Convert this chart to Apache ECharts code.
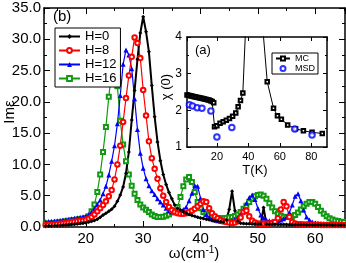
<!DOCTYPE html>
<html><head><meta charset="utf-8">
<script src="https://cdn.jsdelivr.net/npm/echarts@6/dist/echarts.min.js"></script>
<style>html,body{margin:0;padding:0;background:#fff}#c{width:346px;height:263px}</style>
</head><body><div id="c"></div>
<script>
// ---- main panel (b): Im(epsilon) vs omega (cm^-1) ----
const omega = [12.5,13,13.5,14,14.5,15,15.5,16,16.5,17,
  17.5,18,18.5,19,19.5,20,20.5,21,21.5,22,
  22.5,23,23.5,24,24.5,25,25.5,26,26.5,27,
  27.5,28,28.5,29,29.5,30,30.5,31,31.5,32,
  32.5,33,33.5,34,34.5,35,35.5,36,36.5,37,
  37.5,38,38.5,39,39.5,40,40.5,41,41.5,42,
  42.5,43,43.5,44,44.5,45,45.5,46,46.5,47,
  47.5,48,48.5,49,49.5,50,50.5,51,51.5,52,
  52.5,53,53.5,54,54.5,55,55.5,56,56.5,57,
  57.5,58,58.5,59,59.5,60,60.5,61,61.5,62,
  62.5,63,63.5,64,64.5,65];
const imH0 = [0.12,0.14,0.15,0.17,0.19,0.21,0.23,0.26,0.30,0.34,
  0.38,0.43,0.48,0.54,0.60,0.68,0.78,0.90,1.05,1.25,
  1.55,1.9,2.2,2.5,2.85,3.3,4.1,5.1,6.4,8.6,
  12.0,17.1,21.8,26.8,31.0,33.6,31.2,28.0,22.6,17.6,
  13.6,10.6,8.4,6.8,5.5,4.5,3.5,3.0,2.7,2.45,
  2.2,2.0,1.85,1.7,1.55,1.45,1.35,1.25,1.15,1.05,
  0.95,0.9,0.85,0.8,1.1,2.8,5.7,2.6,0.9,0.6,
  0.55,0.5,0.5,0.48,0.47,0.46,0.46,3.1,0.45,0.44,
  0.43,0.42,0.41,0.4,0.39,0.38,0.37,0.36,0.36,0.35,
  0.34,0.34,0.33,0.33,0.32,0.32,0.31,0.31,0.3,0.3,
  0.3,0.29,0.29,0.28,0.28,0.27];
const imH8 = [0.28,0.31,0.34,0.37,0.41,0.45,0.50,0.56,0.62,0.70,
  0.78,0.85,0.93,1.0,1.05,1.15,1.35,1.6,2.0,2.5,
  3.0,3.5,4.1,4.9,5.9,7.6,10.0,13.0,16.8,20.6,
  24.2,27.2,30.3,29.4,27.0,21.9,17.8,13.7,11.0,9.3,
  7.7,6.2,5.0,4.0,3.2,2.7,2.4,2.2,2.1,2.1,
  2.2,2.4,2.6,2.9,3.3,3.7,4.1,4.0,3.0,2.2,
  1.7,1.4,1.1,0.9,0.8,0.7,0.65,0.7,0.9,1.5,
  2.4,2.6,1.7,1.0,0.7,0.55,0.5,0.5,0.5,0.55,
  0.6,0.8,1.4,2.8,4.0,3.3,1.6,0.8,0.55,0.45,
  0.42,0.4,0.38,0.37,0.36,0.35,0.34,0.33,0.33,0.32,
  0.32,0.31,0.31,0.3,0.3,0.3];
const imH12 = [0.82,0.85,0.88,0.92,0.96,1.0,1.05,1.1,1.15,1.2,
  1.3,1.38,1.46,1.55,1.65,1.75,2.0,2.4,2.9,3.6,
  4.3,5.3,6.5,8.3,10.5,13.0,16.5,21.0,26.0,28.3,
  27.5,25.3,20.5,15.6,11.8,9.4,7.7,6.6,5.8,5.2,
  4.5,4.0,3.5,3.0,2.6,2.45,2.4,2.4,2.5,2.8,
  3.2,4.2,5.4,6.6,6.5,4.6,2.8,2.0,1.6,1.3,
  1.1,1.0,0.9,0.85,0.85,0.9,1.0,1.2,1.5,2.0,
  2.8,3.8,4.7,5.1,4.4,3.0,1.9,1.4,1.1,1.0,
  0.95,0.95,1.0,1.1,1.3,1.6,2.3,3.5,4.9,5.3,
  4.2,2.7,1.6,1.1,0.8,0.65,0.58,0.54,0.5,0.48,
  0.46,0.45,0.44,0.43,0.42,0.41];
const imH16 = [0.48,0.5,0.55,0.6,0.65,0.7,0.77,0.85,0.92,1.0,
  1.07,1.13,1.2,1.27,1.33,1.42,1.7,2.5,3.6,5.6,
  8.4,12.0,16.0,20.8,24.8,26.4,22.5,17.0,13.2,10.5,
  8.4,6.6,5.3,4.3,3.6,3.1,2.75,2.4,2.0,1.75,
  1.6,1.6,1.65,1.8,2.0,2.3,2.6,3.2,4.8,6.5,
  7.6,8.0,7.2,5.6,4.0,3.0,2.4,2.1,1.85,1.65,
  1.55,1.45,1.4,1.4,1.45,1.5,1.6,1.75,2.0,2.4,
  2.9,3.4,4.0,4.5,4.9,5.1,5.2,5.0,4.5,3.8,
  3.1,2.5,2.1,1.8,1.65,1.6,1.6,1.7,1.9,2.3,
  2.8,3.3,3.7,4.0,4.0,3.7,3.2,2.6,2.1,1.7,
  1.4,1.2,1.05,0.95,0.85,0.8];
const seriesNames = ['H=0','H=8','H=12','H=16'];

// ---- inset (a): chi(0) vs T(K) ----
const tMC = [1,2,3,4,5,6,7,8,9,10,11,12,13,14,15,16,17,18,
  18.5,20,22,24,26,28,30,32,33.5,35,36.5,39,42,45,48.5,
  52,56,58.5,61,65,70,75,80.5,87];
const chiMC = [2.42,2.41,2.40,2.39,2.38,2.37,2.36,2.35,2.34,2.33,2.32,2.31,2.30,2.29,2.28,2.26,2.24,2.21,
  1.55,1.58,1.65,1.69,1.73,1.78,1.84,1.93,2.1,2.27,2.47,5.0,10.0,10.0,4.6,
  2.78,2.06,1.85,1.76,1.6,1.5,1.44,1.4,1.37];
const tMSD = [2.5,4.5,7.5,10.5,16.2,20,29.5,69.5,80.5];
const chiMSD = [2.15,2.12,2.07,2.06,1.98,1.27,1.53,1.49,1.33];
const insetNames = ['MC','MSD'];

const F = '"Liberation Sans", Arial, Helvetica, sans-serif';
const pairs = (xs, ys) => xs.map((x, i) => [x, ys[i]]);
const BLK = '#000';

function frameAxis(extra) {
  return Object.assign({
    type: 'value',
    axisLine: { show: true, onZero: false, lineStyle: { color: BLK, width: 1.5 } },
    axisTick: { show: true, inside: true, length: 6, lineStyle: { color: BLK, width: 1 } },
    axisLabel: { show: false },
    splitLine: { show: false }
  }, extra);
}

const mainXRange = { min: 12.7, max: 65.2 };
const insetXRange = { min: 1, max: 90 };

const chart = echarts.init(document.getElementById('c'), null, { renderer: 'canvas' });
const option = {
  animation: false,
  backgroundColor: '#fff',
  grid: [
    { left: 44, top: 8, right: 1, bottom: 36, show: false },
    { left: 187, top: 37, width: 140, height: 110, show: true, backgroundColor: '#fff', borderWidth: 0, z: 10 }
  ],
  xAxis: [
    frameAxis(Object.assign({ gridIndex: 0, position: 'bottom', splitNumber: 5,
      axisLabel: { show: true, showMinLabel: false, showMaxLabel: false, color: BLK, fontSize: 15, fontFamily: F, margin: 4 } }, mainXRange)),
    frameAxis(Object.assign({ gridIndex: 0, position: 'bottom', splitNumber: 10, axisLine: { show: false, onZero: false },
      axisTick: { show: true, inside: true, length: 3, lineStyle: { color: BLK, width: 1 } } }, mainXRange)),
    frameAxis(Object.assign({ gridIndex: 0, position: 'top', splitNumber: 5 }, mainXRange)),
    frameAxis(Object.assign({ gridIndex: 0, position: 'top', splitNumber: 10, axisLine: { show: false, onZero: false },
      axisTick: { show: true, inside: true, length: 3, lineStyle: { color: BLK, width: 1 } } }, mainXRange)),
    frameAxis(Object.assign({ gridIndex: 1, position: 'bottom', splitNumber: 5, z: 11,
      axisTick: { show: true, inside: true, length: 4, lineStyle: { color: BLK, width: 1 } },
      axisLabel: { show: true, showMinLabel: false, showMaxLabel: false, color: BLK, fontSize: 11, fontFamily: F, margin: 4 } }, insetXRange)),
    frameAxis(Object.assign({ gridIndex: 1, position: 'top', splitNumber: 5, z: 11,
      axisTick: { show: true, inside: true, length: 4, lineStyle: { color: BLK, width: 1 } } }, insetXRange))
  ],
  yAxis: [
    frameAxis({ gridIndex: 0, position: 'left', min: 0, max: 35, interval: 5,
      minorTick: { show: true, splitNumber: 2, length: 3, lineStyle: { color: BLK, width: 1 } },
      axisLabel: { show: true, color: BLK, fontSize: 15, fontFamily: F, margin: 3, formatter: v => v.toFixed(1) } }),
    frameAxis({ gridIndex: 0, position: 'right', min: 0, max: 35, interval: 5,
      minorTick: { show: true, splitNumber: 2, length: 3, lineStyle: { color: BLK, width: 1 } } }),
    frameAxis({ gridIndex: 1, position: 'left', min: 1, max: 4, interval: 1, z: 11,
      axisTick: { show: true, inside: true, length: 4, lineStyle: { color: BLK, width: 1 } },
      minorTick: { show: true, splitNumber: 2, length: 2, lineStyle: { color: BLK, width: 1 } },
      axisLabel: { show: true, color: BLK, fontSize: 12, fontFamily: F, margin: 5 } }),
    frameAxis({ gridIndex: 1, position: 'right', min: 1, max: 4, interval: 1, z: 11,
      axisTick: { show: true, inside: true, length: 4, lineStyle: { color: BLK, width: 1 } },
      minorTick: { show: true, splitNumber: 2, length: 2, lineStyle: { color: BLK, width: 1 } } })
  ],
  legend: [
    { data: seriesNames, orient: 'vertical', left: 55, top: 28, padding: [2, 4, 2, 3], itemGap: 1,
      itemWidth: 21, itemHeight: 6, borderColor: BLK, borderWidth: 1, borderRadius: 0, backgroundColor: '#fff',
      textStyle: { fontSize: 13, fontFamily: F, color: BLK, lineHeight: 13 } },
    { data: insetNames, orient: 'vertical', left: 272, top: 53, padding: [1, 3, 1, 3], itemGap: 1,
      itemWidth: 14, itemHeight: 5, borderColor: BLK, borderWidth: 1, borderRadius: 0, backgroundColor: '#fff', z: 20,
      textStyle: { fontSize: 9, fontFamily: F, color: BLK, lineHeight: 9 } }
  ],
  series: [
    { name: 'H=16', type: 'line', xAxisIndex: 0, yAxisIndex: 0, data: pairs(omega, imH16), symbol: 'emptyRect', symbolSize: 4,
      color: '#119a11', lineStyle: { width: 1.2 }, itemStyle: { borderWidth: 1 } },
    { name: 'H=12', type: 'line', xAxisIndex: 0, yAxisIndex: 0, data: pairs(omega, imH12), symbol: 'triangle', symbolSize: 5,
      color: '#0000ff', lineStyle: { width: 1.2 } },
    { name: 'H=8', type: 'line', xAxisIndex: 0, yAxisIndex: 0, data: pairs(omega, imH8), symbol: 'emptyCircle', symbolSize: 4.5,
      color: '#ff0000', lineStyle: { width: 1.2 }, itemStyle: { borderWidth: 1 } },
    { name: 'H=0', type: 'line', xAxisIndex: 0, yAxisIndex: 0, data: pairs(omega, imH0), symbol: 'diamond', symbolSize: 4,
      color: '#000000', lineStyle: { width: 2 } },
    { name: 'MC', type: 'line', xAxisIndex: 4, yAxisIndex: 2, data: pairs(tMC, chiMC), symbol: 'emptyRect', symbolSize: 3.5,
      color: '#000000', lineStyle: { width: 1 }, itemStyle: { borderWidth: 0.8 }, z: 12 },
    { name: 'MSD', type: 'scatter', xAxisIndex: 4, yAxisIndex: 2, data: pairs(tMSD, chiMSD), symbol: 'emptyCircle', symbolSize: 5.5,
      color: '#0000ff', itemStyle: { borderWidth: 1.3 }, z: 13 }
  ],
  graphic: [
    { type: 'text', left: 53, top: 9, style: { text: '(b)', font: '15px ' + F, fill: BLK } },
    { type: 'text', left: 195, top: 44, z: 30, style: { text: '(a)', font: '13px ' + F, fill: BLK } },
    { type: 'text', x: 10, y: 112, rotation: Math.PI / 2, style: { text: 'Imε', font: '15px ' + F, fill: BLK, align: 'center', verticalAlign: 'middle' } },
    { type: 'text', x: 194, y: 254, style: { text: '{a|ω(cm}{s|-1}{a|)}', align: 'center', verticalAlign: 'middle',
        rich: { a: { fontSize: 15, fontFamily: F, fill: BLK, lineHeight: 18 }, s: { fontSize: 10, fontFamily: F, fill: BLK, verticalAlign: 'top', lineHeight: 11 } } } },
    { type: 'text', x: 166, y: 87, rotation: Math.PI / 2, z: 30, style: { text: 'χ (0)', font: '13px ' + F, fill: BLK, align: 'center', verticalAlign: 'middle' } },
    { type: 'text', x: 255, y: 170, z: 30, style: { text: 'T(K)', font: '13px ' + F, fill: BLK, align: 'center', verticalAlign: 'middle' } }
  ]
};
chart.setOption(option);
</script>
</body></html>
